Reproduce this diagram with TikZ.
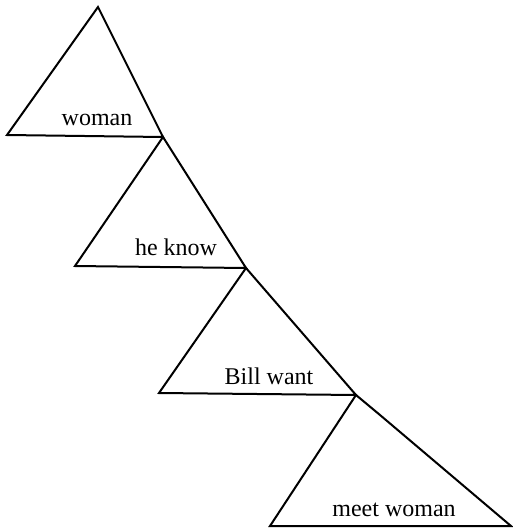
\documentclass[tikz,border=0pt]{standalone}
\usepackage{fontspec}
\setmainfont{Liberation Serif}
\begin{document}
\begin{tikzpicture}[x=1pt,y=1pt,
  tri/.style={draw=black,line width=2pt,line join=miter},
  lbl/.style={inner sep=0pt,anchor=base,font=\fontsize{24}{26}\selectfont}]
\useasboundingbox (0,0) rectangle (512,-528);
% triangle corners
\coordinate (a1) at (98,-7);
\coordinate (l1) at (7,-135);
\coordinate (r1) at (163,-137);
\coordinate (l2) at (75,-266);
\coordinate (r2) at (246,-268);
\coordinate (l3) at (159,-393);
\coordinate (r3) at (356,-395);
\coordinate (k4) at (380,-415);
\coordinate (l4) at (270,-526);
\coordinate (r4) at (511,-526);
\draw[tri] (a1) -- (l1) -- (r1) -- cycle;
\draw[tri] (r1) -- (l2) -- (r2) -- cycle;
\draw[tri] (r2) -- (l3) -- (r3) -- cycle;
\draw[tri] (r3) -- (l4) -- (r4) -- (k4) -- cycle;
\node[lbl] (t1) at (97,-125) {woman};
\node[lbl] (t2) at (176,-255) {he know};
\node[lbl] (t3) at (269,-384) {Bill want};
\node[lbl] (t4) at (394,-516) {meet woman};
\end{tikzpicture}
\end{document}
